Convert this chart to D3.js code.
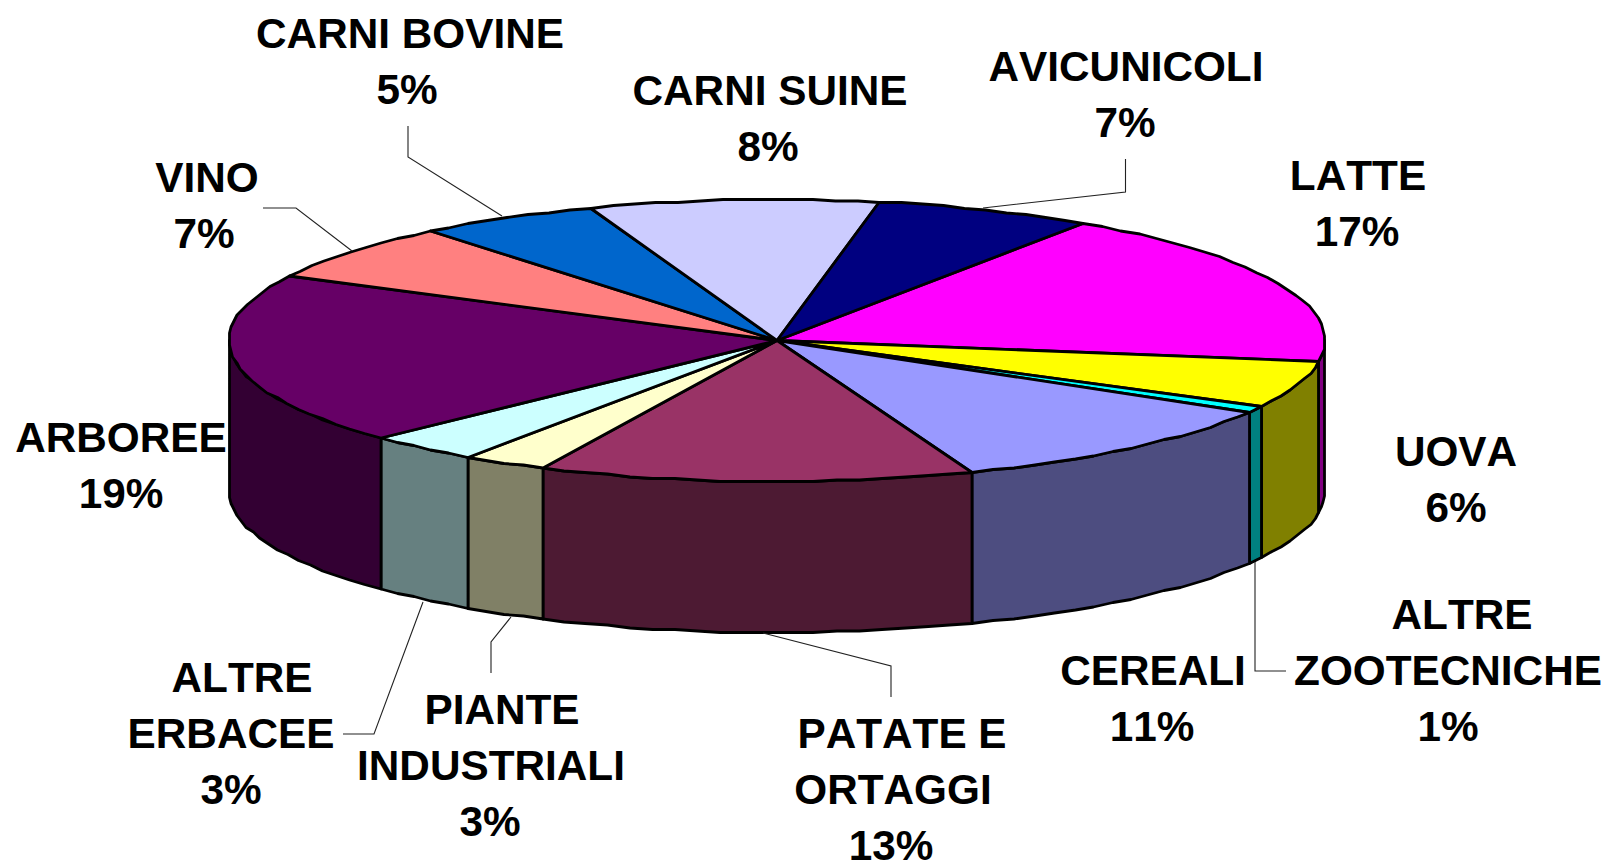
<!DOCTYPE html>
<html>
<head>
<meta charset="utf-8">
<script src="https://cdn.jsdelivr.net/npm/d3@7/dist/d3.min.js"></script>
<style>
html,body{margin:0;padding:0;background:#fff;overflow:hidden}
svg{display:block}
text{font-family:"Liberation Sans",Arial,sans-serif;font-weight:700;font-size:42.3px;fill:#000;font-kerning:none}
</style>
</head>
<body>
<svg id="chart" width="1607" height="862"></svg>
<script>
const categories = ["LATTE","UOVA","ALTRE ZOOTECNICHE","CEREALI","PATATE E ORTAGGI","PIANTE INDUSTRIALI","ALTRE ERBACEE","ARBOREE","VINO","CARNI BOVINE","CARNI SUINE","AVICUNICOLI"];
const shares = [17.89,5.40,0.75,10.74,12.83,2.51,3.31,19.71,6.53,5.40,8.49,6.44];
const percentLabels = ["17%","6%","1%","11%","13%","3%","3%","19%","7%","5%","8%","7%"];
const topColors = ["#FF00FF","#FFFF00","#00FFFF","#9999FF","#993366","#FFFFCC","#CCFFFF","#660066","#FF8080","#0066CC","#CCCCFF","#000080"];
const sideColors = ["#800080","#808000","#008080","#4D4D80","#4D1A33","#808066","#668080","#330033","#804040","#003366","#666680","#000040"];
const labelLines = [["LATTE"],["UOVA"],["ALTRE","ZOOTECNICHE"],["CEREALI"],["PATATE E","ORTAGGI"],["PIANTE","INDUSTRIALI"],["ALTRE","ERBACEE"],["ARBOREE"],["VINO"],["CARNI BOVINE"],["CARNI SUINE"],["AVICUNICOLI"]];

// Layout (page pixels) kept apart from the data
const W = 1607, H = 862, cx = 777, cy = 340.5, rx = 548, ry = 141, depth = 151;
const startDeg = 33.96;
const lineGap = 56.4;
const labelX = [[1358,1357],[1456,1456],[1462,1448,1448],[1153,1152],[902,893,891],[502,491,490],[242,231,231],[121,121],[207,204],[410,407],[770,768],[1126,1125]];
const labelTop = [174.5,450.5,613.5,669.5,732.5,708.5,676.5,436.5,176.5,32.5,90,66];
const leaders = [
  null,null,
  [[1255,562],[1255,671],[1286,671]],
  null,
  [[763,633],[891,666],[891,697]],
  [[511,617],[491,642],[491,673]],
  [[423,602],[374,734],[343,734]],
  null,
  [[263,208],[296,208],[352,251]],
  [[408,126],[408,157],[502,216]],
  null,
  [[1125.5,159],[1125.5,192],[983,208]]
];

const svg = d3.select("#chart");
const rad = d3.scaleLinear().domain([0,360]).range([0,2*Math.PI]);
const pie = d3.pie().sort(null).startAngle(rad(startDeg)).endAngle(rad(startDeg+360));
const arcs = pie(shares).map((d,i)=>({...d,i}));

// The reference outline is a polygon snapped to a coarse pixel grid
const snap = v => Math.round(v/1.5)*1.5;
const px = a => snap(cx + rx*Math.sin(a)), py = a => snap(cy - ry*Math.cos(a));
const line = d3.line();
function sample(a0,a1){
  const n = Math.max(1,Math.ceil(Math.abs(a1-a0)/rad(2.5)));
  return d3.range(n+1).map(k=>a0+(a1-a0)*k/n);
}
const stroke = {stroke:"#000",w:2.8};

// Side walls: only the part of each slice on the front half of the pie
const frontA = rad(90), frontB = rad(270);
const walls = arcs.map(d=>{
  let a0=d.startAngle,a1=d.endAngle;
  const parts=[];
  for(const off of [0,2*Math.PI]){
    const s=Math.max(a0,frontA+off), e=Math.min(a1,frontB+off);
    if(e>s) parts.push([s,e]);
  }
  return parts.map(p=>({i:d.i,s:p[0],e:p[1]}));
}).flat();

svg.append("g").selectAll("path").data(walls).join("path")
  .attr("d",d=>{
    const t=sample(d.s,d.e);
    const pts=t.map(a=>[px(a),py(a)]).concat(t.slice().reverse().map(a=>[px(a),py(a)+depth]));
    return line(pts)+"Z";
  })
  .attr("fill",d=>sideColors[d.i]).attr("stroke",stroke.stroke)
  .attr("stroke-width",stroke.w).attr("stroke-linejoin","round");

svg.append("g").selectAll("path").data(arcs).join("path")
  .attr("d",d=>{
    const pts=[[cx,cy]].concat(sample(d.startAngle,d.endAngle).map(a=>[px(a),py(a)]));
    return line(pts)+"Z";
  })
  .attr("fill",d=>topColors[d.i]).attr("stroke",stroke.stroke)
  .attr("stroke-width",stroke.w).attr("stroke-linejoin","round");

svg.append("g").selectAll("path").data(leaders.filter(Boolean)).join("path")
  .attr("d",d=>line(d)).attr("fill","none").attr("stroke","#222").attr("stroke-width",1.1);

const g = svg.append("g");
categories.forEach((c,i)=>{
  const lines = labelLines[i].concat(percentLabels[i]);
  lines.forEach((t,j)=>{
    g.append("text").attr("text-anchor","middle")
     .attr("x",labelX[i][j])
     .attr("y",labelTop[i]+j*lineGap+15)
     .text(t);
  });
});
</script>
</body>
</html>
